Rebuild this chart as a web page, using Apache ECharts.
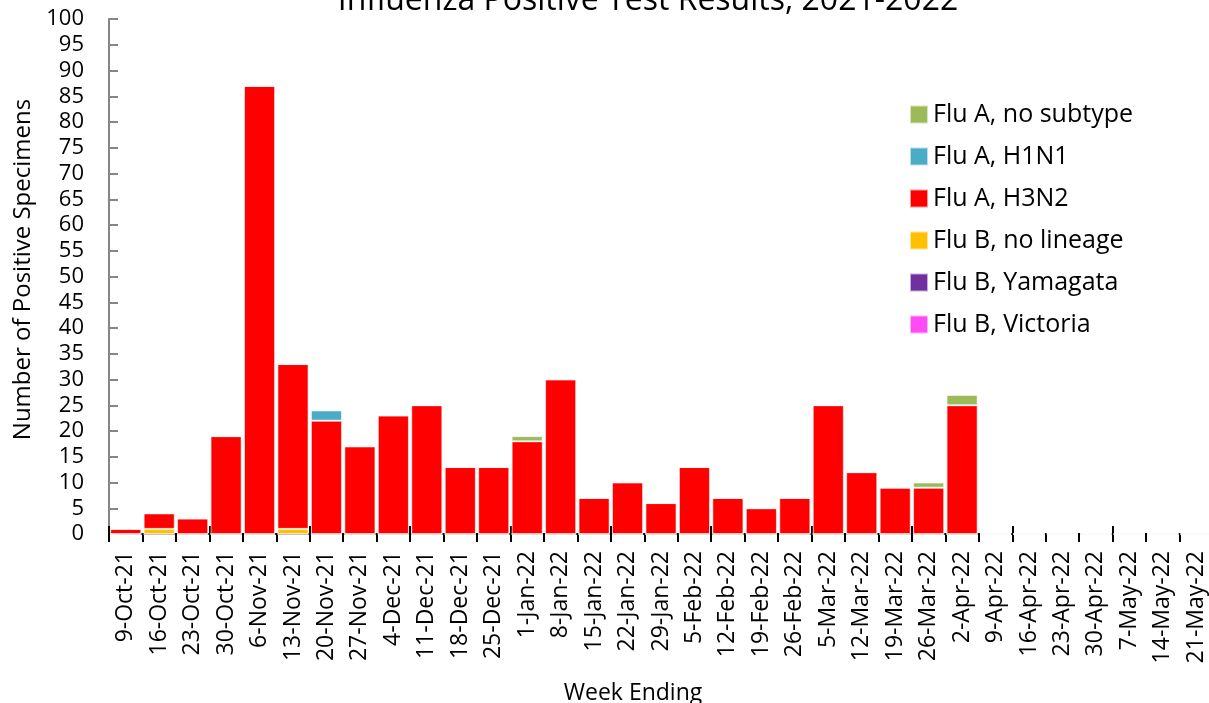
<!DOCTYPE html>
<html>
<head>
<meta charset="utf-8">
<script src="https://cdn.jsdelivr.net/npm/echarts@6/dist/echarts.min.js"></script>
<style>
  html, body { margin: 0; padding: 0; background: #fff; }
  #chart { width: 1209px; height: 703px; }
</style>
</head>
<body>
<div id="chart"></div>
<script>
// week ending dates
const weeks = ['9-Oct-21', '16-Oct-21', '23-Oct-21', '30-Oct-21', '6-Nov-21', '13-Nov-21', '20-Nov-21',
  '27-Nov-21', '4-Dec-21', '11-Dec-21', '18-Dec-21', '25-Dec-21', '1-Jan-22', '8-Jan-22', '15-Jan-22',
  '22-Jan-22', '29-Jan-22', '5-Feb-22', '12-Feb-22', '19-Feb-22', '26-Feb-22', '5-Mar-22', '12-Mar-22',
  '19-Mar-22', '26-Mar-22', '2-Apr-22', '9-Apr-22', '16-Apr-22', '23-Apr-22', '30-Apr-22', '7-May-22',
  '14-May-22', '21-May-22']

const fluBVictoria = [0, 0, 0, 0, 0, 0, 0, 0, 0, 0, 0, 0, 0, 0, 0, 0, 0, 0, 0, 0, 0, 0, 0, 0, 0, 0, 0, 0, 0, 0, 0, 0, 0]
const fluBYamagata = [0, 0, 0, 0, 0, 0, 0, 0, 0, 0, 0, 0, 0, 0, 0, 0, 0, 0, 0, 0, 0, 0, 0, 0, 0, 0, 0, 0, 0, 0, 0, 0, 0]
const fluBNoLineage = [0, 1, 0, 0, 0, 1, 0, 0, 0, 0, 0, 0, 0, 0, 0, 0, 0, 0, 0, 0, 0, 0, 0, 0, 0, 0, 0, 0, 0, 0, 0, 0, 0]
const fluAH3N2 = [1, 3, 3, 19, 87, 32, 22, 17, 23, 25, 13, 13, 18, 30, 7, 10, 6, 13, 7, 5, 7, 25, 12, 9, 9, 25, 0, 0, 0, 0, 0, 0, 0]
const fluAH1N1 = [0, 0, 0, 0, 0, 0, 2, 0, 0, 0, 0, 0, 0, 0, 0, 0, 0, 0, 0, 0, 0, 0, 0, 0, 0, 0, 0, 0, 0, 0, 0, 0, 0]
const fluANoSubtype = [0, 0, 0, 0, 0, 0, 0, 0, 0, 0, 0, 0, 1, 0, 0, 0, 0, 0, 0, 0, 0, 0, 0, 0, 1, 2, 0, 0, 0, 0, 0, 0, 0]

const legendNames = ['Flu A, no subtype', 'Flu A, H1N1', 'Flu A, H3N2', 'Flu B, no lineage', 'Flu B, Yamagata', 'Flu B, Victoria']

const fontFamily = '"Open Sans", "Noto Sans", sans-serif'

const chart = echarts.init(document.getElementById('chart'))

function bar(name, data, color) {
  return {
    name: name,
    type: 'bar',
    stack: 'total',
    data: data,
    barCategoryGap: '7%',
    itemStyle: {
      color: color,
      borderColor: 'rgba(255,255,255,0.6)',
      borderWidth: 1
    },
    animation: false
  }
}

chart.setOption({
  textStyle: { fontFamily: fontFamily },
  title: {
    text: 'Influenza Positive Test Results, 2021-2022',
    left: 643,
    textAlign: 'center',
    top: -20,
    textStyle: { fontFamily: fontFamily, fontSize: 32, fontWeight: 'normal', color: '#000' }
  },
  grid: {
    left: 109,
    right: -4,
    top: 19,
    bottom: 169,
    outerBoundsMode: 'none',
    containLabel: false
  },
  legend: {
    orient: 'vertical',
    left: 904,
    top: 97,
    itemWidth: 18,
    itemHeight: 18,
    itemGap: 17,
    icon: 'rect',
    data: legendNames,
    textStyle: { fontFamily: fontFamily, fontSize: 25, color: '#000' }
  },
  xAxis: [{
    type: 'category',
    data: weeks,
    name: 'Week Ending',
    nameLocation: 'middle',
    nameGap: 148,
    nameTextStyle: { fontFamily: fontFamily, fontSize: 23, color: '#000', padding: [0, 56, 0, 0] },
    axisLine: { lineStyle: { color: '#000', width: 2 } },
    axisTick: { show: true, length: 8, lineStyle: { color: '#000', width: 2 } },
    axisLabel: { rotate: 90, fontSize: 23, color: '#000', margin: 17, interval: 0 }
  }, {
    type: 'category',
    data: weeks,
    position: 'bottom',
    axisLine: { show: false },
    axisTick: { show: true, inside: true, length: 8, lineStyle: { color: '#000', width: 2 } },
    axisLabel: { show: false }
  }],
  yAxis: {
    type: 'value',
    min: 0,
    max: 100,
    interval: 5,
    name: 'Number of Positive Specimens',
    nameLocation: 'middle',
    nameGap: 73,
    nameTextStyle: { fontFamily: fontFamily, fontSize: 24, color: '#000', padding: [0, 0, 0, 14] },
    axisLine: { show: true, lineStyle: { color: '#868686', width: 2 } },
    axisTick: { show: true, inside: true, length: 9, lineStyle: { color: '#868686', width: 2 } },
    axisLabel: { fontSize: 22, color: '#000', margin: 25 },
    splitLine: { show: false }
  },
  series: [
    bar('Flu B, Victoria', fluBVictoria, '#ff4af5'),
    bar('Flu B, Yamagata', fluBYamagata, '#7030a0'),
    bar('Flu B, no lineage', fluBNoLineage, '#ffc000'),
    bar('Flu A, H3N2', fluAH3N2, '#ff0000'),
    bar('Flu A, H1N1', fluAH1N1, '#4bacc6'),
    bar('Flu A, no subtype', fluANoSubtype, '#9bbb59')
  ]
})
</script>
</body>
</html>
